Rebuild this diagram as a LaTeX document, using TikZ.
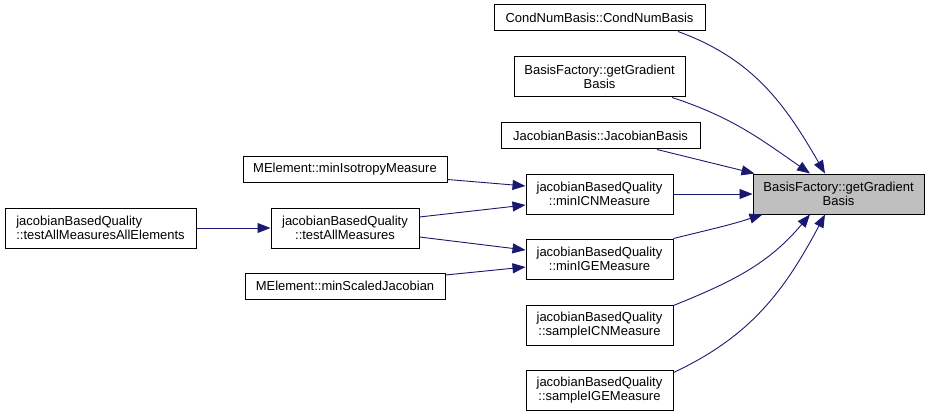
\documentclass[tikz,border=0pt]{standalone}
\usepackage{fontspec}
\setmainfont{Liberation Sans}
\usetikzlibrary{arrows.meta}
\definecolor{edgeblue}{HTML}{191970}
\definecolor{curfill}{HTML}{BFBFBF}

\begin{document}
\begin{tikzpicture}[x=1pt, y=1pt,
    fn/.style={draw=black, fill=white, line width=1pt, inner sep=0pt,
               minimum height=40pt, font=\fontsize{13}{14.5}\selectfont, align=center},
    fnone/.style={fn, minimum height=26pt},
    cur/.style={fn, fill=curfill},
    call/.style={-{Triangle[length=13pt,width=10pt]}, line width=0.9pt, draw=edgeblue}]

  \useasboundingbox (0,0) rectangle (929,-417);

  % ---- the function itself
  \node[cur, minimum width=171pt] (cur) at (838.5,-194) {BasisFactory::getGradient\\Basis};

  % ---- direct callers
  \node[fnone, minimum width=211pt] (cond)    at (599.5,-18)  {CondNumBasis::CondNumBasis};
  \node[fn,    minimum width=171pt] (bfgrad)  at (599.5,-77)  {BasisFactory::getGradient\\Basis};
  \node[fnone, minimum width=199pt] (jacb)    at (600.5,-136) {JacobianBasis::JacobianBasis};
  \node[fn,    minimum width=147pt] (minicn)  at (599.5,-194) {jacobianBasedQuality\\::minICNMeasure};
  \node[fn,    minimum width=147pt] (minige)  at (599.5,-259) {jacobianBasedQuality\\::minIGEMeasure};
  \node[fn,    minimum width=147pt] (sampicn) at (599.5,-325) {jacobianBasedQuality\\::sampleICNMeasure};
  \node[fn,    minimum width=147pt] (sampige) at (599.5,-390) {jacobianBasedQuality\\::sampleIGEMeasure};

  % ---- callers of the callers
  \node[fnone, minimum width=204pt, minimum height=25pt] (miniso) at (345,-169.5) {MElement::minIsotropyMeasure};
  \node[fn,    minimum width=148pt] (testall) at (345,-228) {jacobianBasedQuality\\::testAllMeasures};
  \node[fnone, minimum width=200pt] (minscal) at (345,-286) {MElement::minScaledJacobian};
  \node[fn, align=left, minimum width=191pt] (testallall) at (100.5,-228)
    {jacobianBasedQuality\\::testAllMeasuresAllElements};

  % ---- edges into the function
  \draw[call] ([xshift=78.5pt]cond.south) to[out=-20, in=120] ([xshift=-13.5pt]cur.north);
  \draw[call] ([xshift=72.5pt]bfgrad.south) to[out=-18, in=145] ([xshift=-28.5pt]cur.north);
  \draw[call] ([xshift=56.5pt]jacb.south) -- ([xshift=2pt]cur.north west);
  \draw[call] (minicn.east) -- (cur.west);
  \draw[call] (minige.north east) to[out=14, in=-162] ([xshift=10pt]cur.south west);
  \draw[call] ([yshift=-1pt]sampicn.north east) to[out=22, in=-130] ([xshift=-28.5pt]cur.south);
  \draw[call] ([yshift=-3pt]sampige.north east) to[out=25, in=-118] ([xshift=-13.5pt]cur.south);

  % ---- edges one level further out
  \draw[call] ([yshift=-10pt]miniso.east) -- ([yshift=8pt]minicn.west);
  \draw[call] ([yshift=11pt]testall.east) -- ([yshift=-11pt]minicn.west);
  \draw[call] ([yshift=-9pt]testall.east) -- ([yshift=9pt]minige.west);
  \draw[call] ([yshift=11pt]minscal.east) -- ([yshift=-8pt]minige.west);
  \draw[call] (testallall.east) -- (testall.west);
\end{tikzpicture}
\end{document}
